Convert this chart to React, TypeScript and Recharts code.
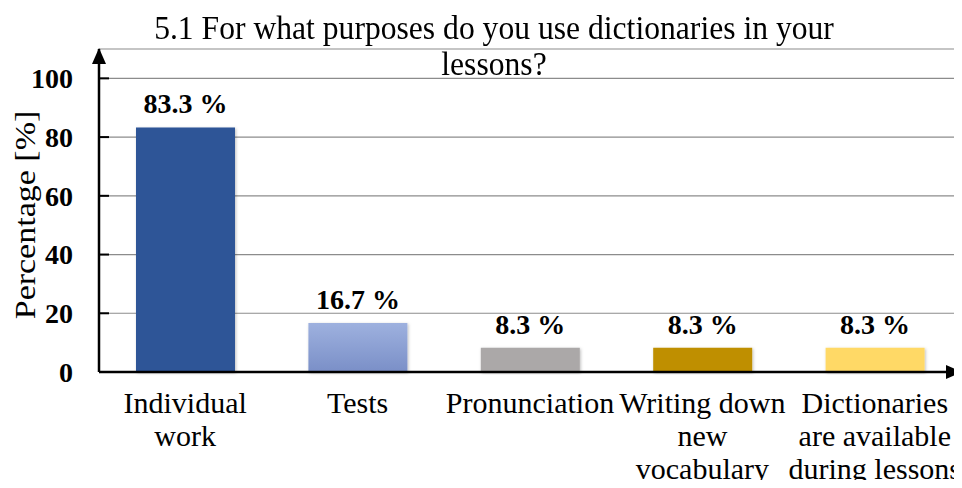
import { BarChart, Bar, XAxis, YAxis, CartesianGrid, LabelList, Cell } from "recharts";

// chart values
const categories = [
  "Individual\nwork",
  "Tests",
  "Pronunciation",
  "Writing down\nnew\nvocabulary",
  "Dictionaries\nare available\nduring lessons",
];
const percentages = [83.3, 16.7, 8.3, 8.3, 8.3];
const barColors = ["#2F5597", "url(#testsFill)", "#ABA8A8", "#BF8F00", "#FFD966"];
const yTicks = [0, 20, 40, 60, 80, 100];

const data = categories.map((name, i) => ({ name, value: percentages[i] }));

const FONT = "'Liberation Serif', 'Times New Roman', serif";

const CategoryTick = (props: any) => {
  const { x, y, payload } = props;
  const lines = String(payload.value).split("\n");
  return (
    <text x={x} y={y + 33} textAnchor="middle" fontFamily={FONT} fontSize={30} fill="#000">
      {lines.map((l, i) => (
        <tspan key={i} x={x} dy={i === 0 ? 0 : 33}>
          {l}
        </tspan>
      ))}
    </text>
  );
};

const YTitle = () => (
  <text
    x={0}
    y={0}
    transform="translate(35 215) rotate(-90) scale(1 0.88)"
    textAnchor="middle"
    fontFamily={FONT}
    fontSize={34}
    fill="#000"
  >
    Percentage [%]
  </text>
);

export default function App() {
  return (
    <div style={{ position: "relative", width: 962, height: 488, margin: -8, background: "#fff", overflow: "hidden" }}>
      <div
        style={{
          position: "absolute",
          left: 13,
          top: 10,
          width: 962,
          textAlign: "center",
          whiteSpace: "nowrap",
          fontFamily: FONT,
          fontSize: 34,
          lineHeight: "36px",
          color: "#000",
          transform: "scaleX(0.93)",
          transformOrigin: "481px 0",
        }}
      >
        5.1 For what purposes do you use dictionaries in your
        <br />
        lessons?
      </div>
      <BarChart
        width={962}
        height={488}
        data={data}
        margin={{ top: 49, right: 1, bottom: 0, left: 0 }}
        style={{ fontFamily: FONT }}
      >
        <defs>
          <linearGradient id="testsFill" x1="0" y1="0" x2="0" y2="1">
            <stop offset="0%" stopColor="#9EB1DF" />
            <stop offset="100%" stopColor="#7A8FC7" />
          </linearGradient>
          <marker id="arrowHead" markerUnits="userSpaceOnUse" markerWidth={16} markerHeight={14} refX={15} refY={7} orient="auto-start-reverse">
            <path d="M0,0 L16,7 L0,14 z" fill="#000" />
          </marker>
          <filter id="barShadow" x="-10%" y="-10%" width="120%" height="120%">
            <feDropShadow dx="1" dy="1" stdDeviation="1.5" floodColor="#000" floodOpacity="0.25" />
          </filter>
        </defs>
        <CartesianGrid vertical={false} stroke="#8C8C8C" strokeWidth={1.2} />
        <XAxis
          dataKey="name"
          height={116}
          interval={0}
          tickLine={false}
          tick={<CategoryTick />}
          axisLine={{ stroke: "#000", strokeWidth: 2.5, markerEnd: "url(#arrowHead)" }}
        />
        <YAxis
          width={99}
          domain={[0, 110]}
          ticks={yTicks}
          tickSize={-10}
          tickMargin={36}
          tickLine={{ stroke: "#000", strokeWidth: 2 }}
          axisLine={{ stroke: "#000", strokeWidth: 2.5, markerStart: "url(#arrowHead)" }}
          tick={{ fill: "#000", fontSize: 28, fontWeight: "bold", fontFamily: FONT }}
          label={<YTitle />}
        />
        <Bar dataKey="value" barSize={99} isAnimationActive={false} style={{ filter: "url(#barShadow)" }}>
          {data.map((d, i) => (
            <Cell key={d.name} fill={barColors[i]} />
          ))}
          <LabelList
            dataKey="value"
            position="top"
            offset={14}
            formatter={(v: any) => `${v} %`}
            style={{ fill: "#000", fontSize: 28, fontWeight: "bold", fontFamily: FONT }}
          />
        </Bar>
      </BarChart>
    </div>
  );
}
